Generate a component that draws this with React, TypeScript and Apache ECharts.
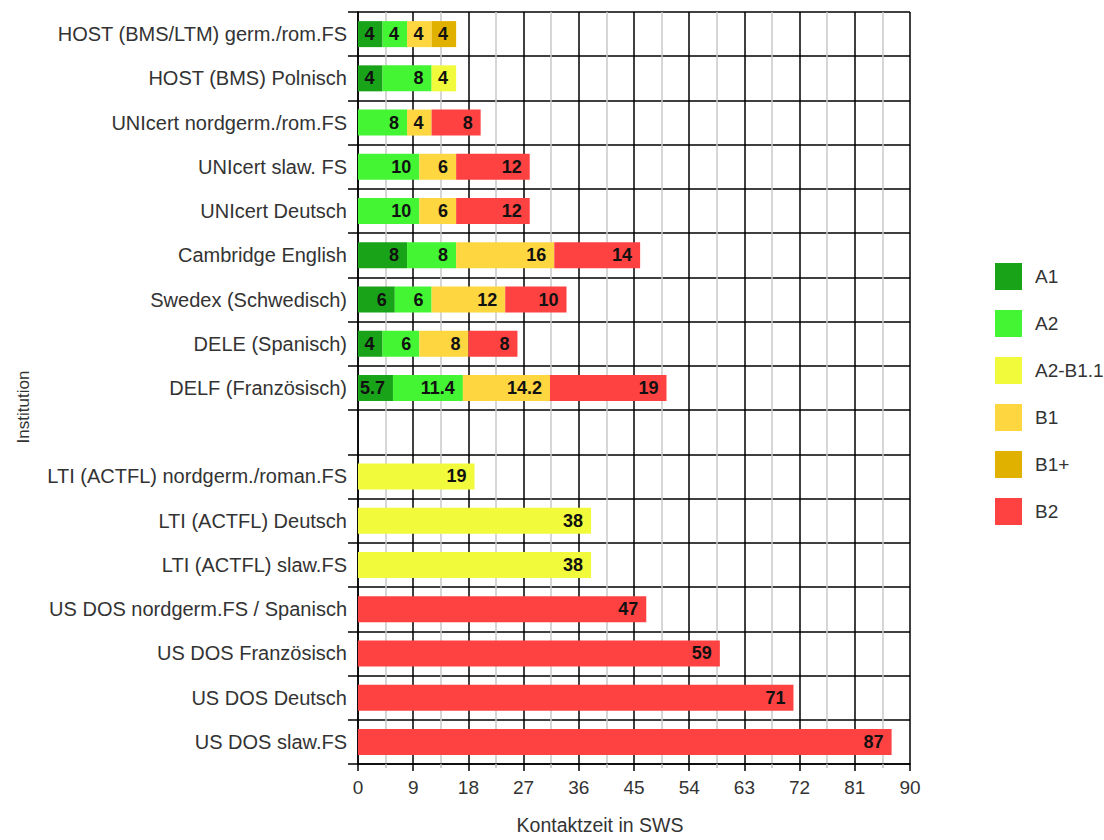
import React, { useEffect, useRef } from "react";
import * as echarts from "echarts";

const categories = [
  "HOST (BMS/LTM) germ./rom.FS",
  "HOST (BMS) Polnisch",
  "UNIcert nordgerm./rom.FS",
  "UNIcert slaw. FS",
  "UNIcert Deutsch",
  "Cambridge English",
  "Swedex (Schwedisch)",
  "DELE (Spanisch)",
  "DELF (Französisch)",
  "",
  "LTI (ACTFL) nordgerm./roman.FS",
  "LTI (ACTFL) Deutsch",
  "LTI (ACTFL) slaw.FS",
  "US DOS nordgerm.FS / Spanisch",
  "US DOS Französisch",
  "US DOS Deutsch",
  "US DOS slaw.FS",
];

const seriesNames = ["A1", "A2", "A2-B1.1", "B1", "B1+", "B2"];
const seriesColors = ["#19a319", "#43f533", "#f1fb3c", "#fed640", "#e1b100", "#fe4242"];

const a1 = [4, 4, null, null, null, 8, 6, 4, 5.7, null, null, null, null, null, null, null, null];
const a2 = [4, 8, 8, 10, 10, 8, 6, 6, 11.4, null, null, null, null, null, null, null, null];
const a2b11 = [null, 4, null, null, null, null, null, null, null, null, 19, 38, 38, null, null, null, null];
const b1 = [4, null, 4, 6, 6, 16, 12, 8, 14.2, null, null, null, null, null, null, null, null];
const b1plus = [4, null, null, null, null, null, null, null, null, null, null, null, null, null, null, null, null];
const b2 = [null, null, 8, 12, 12, 14, 10, 8, 19, null, null, null, null, 47, 59, 71, 87];

const seriesData = [a1, a2, a2b11, b1, b1plus, b2];

const xMin = 0;
const xMax = 90;
const xInterval = 9;

const FONT = "'Liberation Sans', Arial, Helvetica, sans-serif";

export default function App() {
  const ref = useRef<HTMLDivElement>(null);

  useEffect(() => {
    if (!ref.current) return;
    const chart = echarts.init(ref.current, null, { renderer: "svg" });
    const option = {
      animation: false,
      backgroundColor: "#ffffff",
      textStyle: { fontFamily: FONT },
      grid: { left: 358, right: 194, top: 12, bottom: 75, containLabel: false },
      legend: {
        orient: "vertical",
        left: 990,
        top: 258,
        itemWidth: 27,
        itemHeight: 27,
        itemGap: 20,
        icon: "rect",
        data: seriesNames,
        textStyle: {
          fontFamily: FONT,
          fontSize: 19,
          color: "#333",
          padding: [12, 0, 0, 8],
        },
      },
      xAxis: {
        type: "value",
        min: xMin,
        max: xMax,
        interval: xInterval,
        name: "Kontaktzeit in SWS",
        nameLocation: "middle",
        nameGap: 51,
        nameTextStyle: {
          fontFamily: FONT,
          fontSize: 19.5,
          color: "#333",
          padding: [0, 68, 0, 0],
        },
        axisLine: { show: true, lineStyle: { color: "#000", width: 1.5 } },
        axisTick: { show: true, length: 7, lineStyle: { color: "#000", width: 1.5 } },
        minorTick: { show: true, splitNumber: 2, length: 4, lineStyle: { color: "#bbb", width: 1.5 } },
        axisLabel: { fontFamily: FONT, fontSize: 19, color: "#333", margin: 14 },
        splitLine: { show: true, lineStyle: { color: "#000", width: 1.5 } },
        minorSplitLine: { show: true, lineStyle: { color: "#c8c8c8", width: 1.5 } },
      },
      yAxis: {
        type: "category",
        inverse: true,
        data: categories,
        name: "Institution",
        nameLocation: "middle",
        nameGap: 326,
        nameTextStyle: {
          fontFamily: FONT,
          fontSize: 17,
          color: "#333",
          padding: [0, 38, 0, 0],
        },
        axisLine: { show: true, lineStyle: { color: "#000", width: 1.5 } },
        axisTick: { show: true, length: 10, alignWithLabel: false, lineStyle: { color: "#000", width: 1.5 } },
        axisLabel: { fontFamily: FONT, fontSize: 20, color: "#333", margin: 11 },
        splitLine: { show: true, lineStyle: { color: "#000", width: 1.5 } },
      },
      series: seriesNames.map((name, i) => ({
        name,
        type: "bar",
        stack: "total",
        barWidth: 26,
        itemStyle: { color: seriesColors[i] },
        label: {
          show: true,
          position: "insideRight",
          distance: 8,
          fontFamily: FONT,
          fontSize: 18,
          fontWeight: "bold",
          color: "#111",
          formatter: (p: any) => String(p.value),
        },
        data: seriesData[i],
      })),
    };
    chart.setOption(option as any);
    return () => chart.dispose();
  }, []);

  return (
    <div
      ref={ref}
      style={{ position: "fixed", left: 0, top: 0, width: 1104, height: 840 }}
    />
  );
}
